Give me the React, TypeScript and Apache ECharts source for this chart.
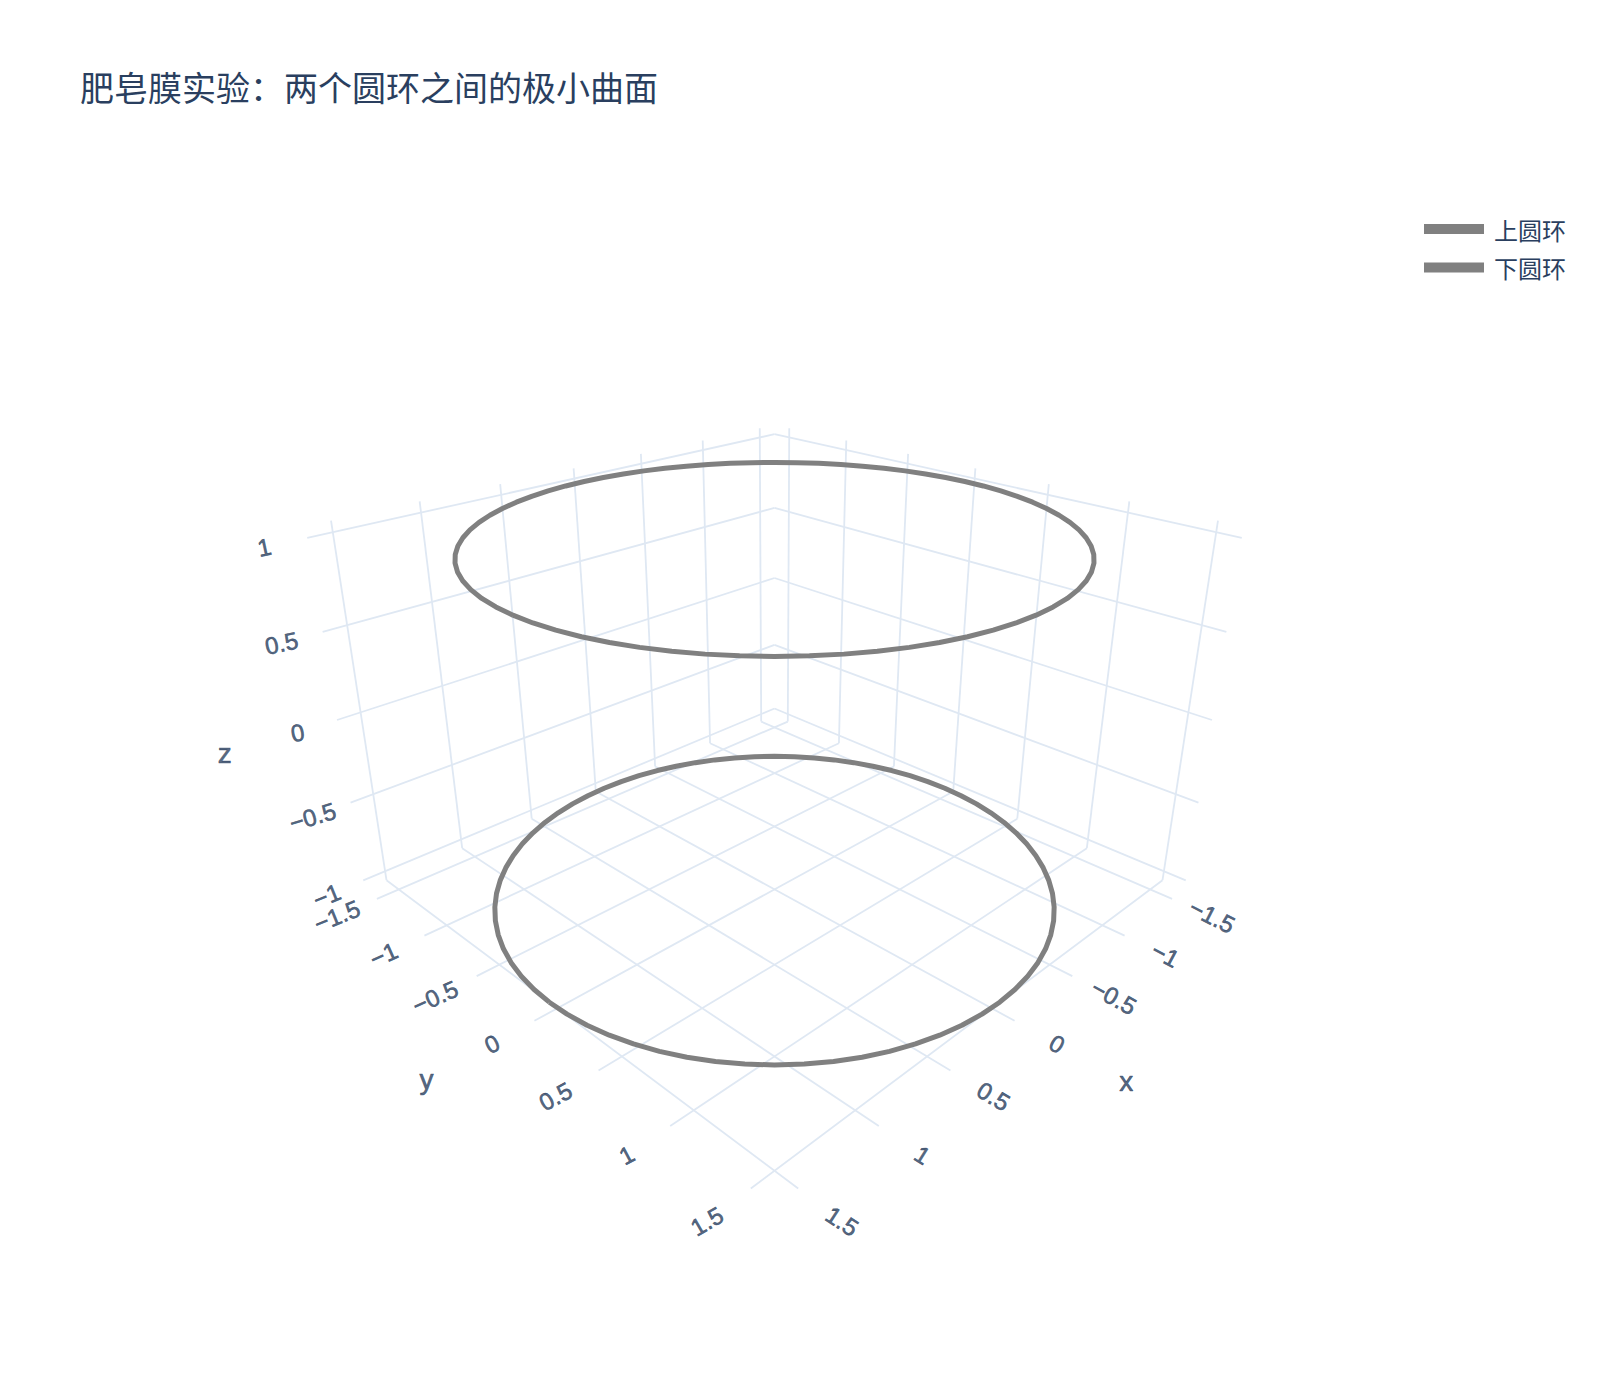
import React, { useEffect, useRef } from "react";
import * as echarts from "echarts";

const titleText = "肥皂膜实验:两个圆环之间的极小曲面";
const ringNames = ["上圆环", "下圆环"];
const ringZ = [1, -1];
const ringX = [
  1.5431, 1.5372, 1.5197, 1.4905, 1.4501, 1.3985, 1.3364, 1.264, 1.1821, 1.0911, 0.9919, 0.8851, 0.7716, 0.6521, 0.5278, 0.3994, 0.268, 0.1345, 0,
  -0.1345, -0.268, -0.3994, -0.5278, -0.6521, -0.7716, -0.8851, -0.9919, -1.0911, -1.1821, -1.264, -1.3364, -1.3985, -1.4501, -1.4905, -1.5197, -1.5372, -1.5431,
  -1.5372, -1.5197, -1.4905, -1.4501, -1.3985, -1.3364, -1.264, -1.1821, -1.0911, -0.9919, -0.8851, -0.7716, -0.6521, -0.5278, -0.3994, -0.268, -0.1345, 0,
  0.1345, 0.268, 0.3994, 0.5278, 0.6521, 0.7716, 0.8851, 0.9919, 1.0911, 1.1821, 1.264, 1.3364, 1.3985, 1.4501, 1.4905, 1.5197, 1.5372, 1.5431,
];
const ringY = [
  0, 0.1345, 0.268, 0.3994, 0.5278, 0.6521, 0.7716, 0.8851, 0.9919, 1.0911, 1.1821, 1.264, 1.3364, 1.3985, 1.4501, 1.4905, 1.5197, 1.5372, 1.5431,
  1.5372, 1.5197, 1.4905, 1.4501, 1.3985, 1.3364, 1.264, 1.1821, 1.0911, 0.9919, 0.8851, 0.7716, 0.6521, 0.5278, 0.3994, 0.268, 0.1345, 0,
  -0.1345, -0.268, -0.3994, -0.5278, -0.6521, -0.7716, -0.8851, -0.9919, -1.0911, -1.1821, -1.264, -1.3364, -1.3985, -1.4501, -1.4905, -1.5197, -1.5372, -1.5431,
  -1.5372, -1.5197, -1.4905, -1.4501, -1.3985, -1.3364, -1.264, -1.1821, -1.0911, -0.9919, -0.8851, -0.7716, -0.6521, -0.5278, -0.3994, -0.268, -0.1345, 0,
];
const xyTicks = [-1.5, -1, -0.5, 0, 0.5, 1, 1.5];
const xyTickLabels = ["−1.5", "−1", "−0.5", "0", "0.5", "1", "1.5"];
const zTicks = [-1, -0.5, 0, 0.5, 1];
const zTickLabels = ["−1", "−0.5", "0", "0.5", "1"];

// scene extent
const XY_MAX = 1.636;
const Z_MAX = 1.06;

// camera fitted to the reference
function project(x: number, y: number, z: number): [number, number] {
  const w = 1 - 0.09566 * (x + y) - 0.06375 * z;
  return [774.5 - (133.7 * (x - y)) / w, (720 - 11.89 * (x + y) - 216.5 * z) / w];
}

const INK = "#2a3f5f";
const GRID = "#DFE8F3";
const RING = "#808080";
const LATIN = '"Liberation Sans", Arial, sans-serif';
const CJK = '"Noto Sans CJK SC", sans-serif';

const xTilt = [-27, -28, -29, -30, -31, -32, -33];
const yTilt = [22, 24, 24, 26, 28, 28, 30];
const zTilt = [22, 17, 10, 12, 12];

function gridSeries(name: string, a: number[], b: number[]) {
  return {
    type: "line",
    name,
    silent: true,
    showSymbol: false,
    symbol: "none",
    lineStyle: { color: GRID, width: 1.8 },
    data: [project(a[0], a[1], a[2]), project(b[0], b[1], b[2])],
  };
}

function textSeries(name: string, items: { at: [number, number]; text: string; rotate: number; size: number }[]) {
  return {
    type: "scatter",
    name,
    silent: true,
    symbolSize: 0.01,
    itemStyle: { color: "transparent" },
    data: items.map((it) => ({
      value: it.at,
      label: {
        show: true,
        position: "inside",
        formatter: it.text,
        rotate: it.rotate,
        align: "center",
        verticalAlign: "middle",
        color: INK,
        fontFamily: LATIN,
        fontSize: it.size,
        textBorderColor: INK,
        textBorderWidth: 0.6,
      },
    })),
  };
}

function buildOption() {
  const R = XY_MAX;
  const Z = Z_MAX;
  const series: any[] = [];
  xyTicks.forEach((t, i) => {
    series.push(gridSeries(`floor-x${i}`, [t, -R, -Z], [t, R, -Z]));
    series.push(gridSeries(`floor-y${i}`, [-R, t, -Z], [R, t, -Z]));
    series.push(gridSeries(`wall-y${i}`, [-R, t, -Z], [-R, t, Z]));
    series.push(gridSeries(`wall-x${i}`, [t, -R, -Z], [t, -R, Z]));
  });
  zTicks.forEach((t, i) => {
    series.push(gridSeries(`wall-za${i}`, [-R, -R, t], [-R, R, t]));
    series.push(gridSeries(`wall-zb${i}`, [-R, -R, t], [R, -R, t]));
  });
  ringNames.forEach((name, i) => {
    series.push({
      type: "line",
      name,
      silent: true,
      showSymbol: false,
      symbol: "none",
      lineStyle: { color: RING, width: 5 },
      itemStyle: { color: RING },
      data: ringX.map((x, k) => project(x, ringY[k], ringZ[i])),
    });
  });
  const off = 0.24;
  series.push(
    textSeries("x-ticks", xyTicks.map((t, i) => ({ at: project(t, R + off, -Z), text: xyTickLabels[i], rotate: xTilt[i], size: 24 })))
  );
  series.push(
    textSeries("y-ticks", xyTicks.map((t, i) => ({ at: project(R + off, t, -Z), text: xyTickLabels[i], rotate: yTilt[i], size: 24 })))
  );
  series.push(
    textSeries("z-ticks", zTicks.map((t, i) => ({ at: project(R + 0.22, -R, t), text: zTickLabels[i], rotate: zTilt[i], size: 24 })))
  );
  series.push(
    textSeries("axis-titles", [
      { at: project(0, 2.244, -Z), text: "x", rotate: 0, size: 28 },
      { at: project(2.225, 0, -Z), text: "y", rotate: 0, size: 28 },
      { at: project(R + 0.6, -R, 0.015), text: "z", rotate: 0, size: 28 },
    ])
  );

  return {
    animation: false,
    backgroundColor: "#fff",
    title: {
      text: titleText.replace(":", "："),
      left: 75,
      top: 64,
      textStyle: { color: INK, fontFamily: CJK, fontWeight: "normal", fontSize: 34 },
    },
    legend: {
      data: ringNames.map((name) => ({ name, icon: "rect", itemStyle: { color: RING } })),
      orient: "vertical",
      left: 1419,
      top: 212,
      itemWidth: 60,
      itemHeight: 10,
      itemGap: 14.5,
      selectedMode: false,
      textStyle: { color: INK, fontFamily: CJK, fontSize: 24, padding: [0, 0, 0, 5] },
    },
    grid: { left: 0, right: 0, top: 0, bottom: 0, containLabel: false },
    xAxis: { type: "value", min: 0, max: 1600, show: false },
    yAxis: { type: "value", min: 0, max: 1400, inverse: true, show: false },
    series,
  };
}

export default function App() {
  const ref = useRef<HTMLDivElement>(null);
  useEffect(() => {
    if (!ref.current) return;
    const chart = echarts.init(ref.current, undefined, { renderer: "svg" });
    chart.setOption(buildOption() as any);
    return () => chart.dispose();
  }, []);
  return <div ref={ref} style={{ position: "absolute", left: 0, top: 0, width: 1600, height: 1400, background: "#fff" }} />;
}
